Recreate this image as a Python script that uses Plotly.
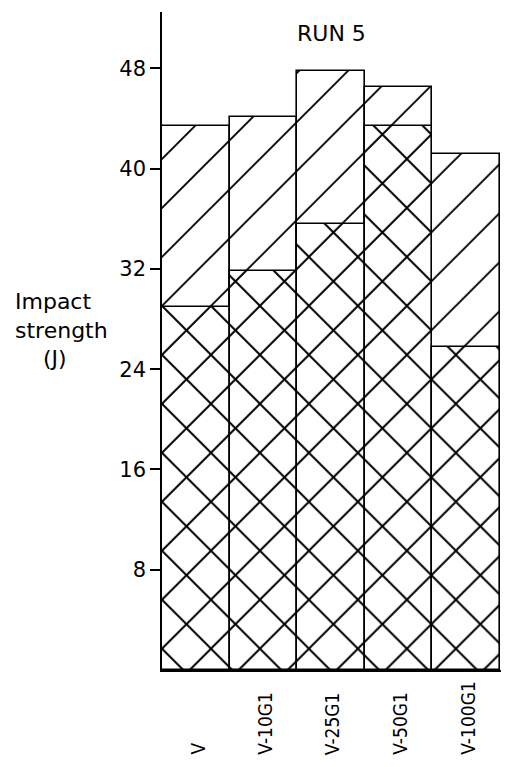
import plotly.graph_objects as go

# samples and impact strength (J)
samples = ["V", "V-10G1", "V-25G1", "V-50G1", "V-100G1"]
total_strength = [43.4, 44.1, 47.8, 46.5, 41.2]
crosshatch_strength = [29.0, 31.8, 35.6, 43.4, 25.8]
y_ticks = [8, 16, 24, 32, 40, 48]

FONT = "DejaVu Sans"
NARROW = "DejaVu Sans Condensed"
NB = "\u00a0"
HATCH = 34.63  # 19 tiles over the plot height, so the cross hatch meets the baseline at its corners

fig = go.Figure()

# full bar, single hatch
fig.add_trace(go.Bar(
    x=samples,
    y=total_strength,
    marker=dict(
        color="white",
        line=dict(color="black", width=1.6),
        pattern=dict(shape="/", size=HATCH, solidity=0.055,
                     fgcolor="black", bgcolor="white", fillmode="replace"),
    ),
    showlegend=False,
))

# lower part, cross hatch drawn on top
fig.add_trace(go.Bar(
    x=samples,
    y=crosshatch_strength,
    marker=dict(
        color="white",
        line=dict(color="black", width=1.6),
        pattern=dict(shape="x", size=HATCH, solidity=0.11,
                     fgcolor="black", bgcolor="white", fillmode="replace"),
    ),
    showlegend=False,
))

# page body has an 8px margin: keep the figure inside the window so nothing scrolls
fig.update_layout(
    width=493,
    height=751,
    margin=dict(l=154, r=0, t=4, b=89),
    barmode="overlay",
    bargap=0,
    plot_bgcolor="white",
    paper_bgcolor="white",
    font=dict(family=FONT, color="black"),
)

fig.update_xaxes(
    showticklabels=False,
    showline=True,
    linecolor="black",
    linewidth=2,
    ticks="",
    showgrid=False,
    range=[-0.5, 4.52],
)

fig.update_yaxes(
    range=[0, 52.5],
    tickvals=y_ticks,
    ticktext=[str(v) for v in y_ticks],
    ticks="outside",
    ticklen=10,
    tickwidth=1.5,
    tickcolor="black",
    tickfont=dict(size=21, family=FONT),
    showline=True,
    linecolor="black",
    linewidth=1.5,
    showgrid=False,
    zeroline=False,
)

# title inside the plot
fig.add_annotation(
    text="RUN 5", x=0.5, y=0.968, xref="paper", yref="paper",
    showarrow=False, font=dict(size=22, family=FONT), yanchor="middle",
)

# y axis title, horizontal, three lines
fig.add_annotation(
    text="Impact<br>strength<br>" + NB * 4 + "(J)", x=-0.44, y=0.517,
    xref="paper", yref="paper",
    showarrow=False, font=dict(size=22, family=FONT), align="left",
    xanchor="left", yanchor="middle",
)

# sample names, rotated, starting from the bottom edge
for s in samples:
    fig.add_annotation(
        text=s, x=s, y=-0.132, xref="x", yref="paper", xshift=2,
        showarrow=False, textangle=-90, font=dict(size=19, family=NARROW),
        yanchor="bottom", xanchor="center",
    )

fig.write_html("out.html")
